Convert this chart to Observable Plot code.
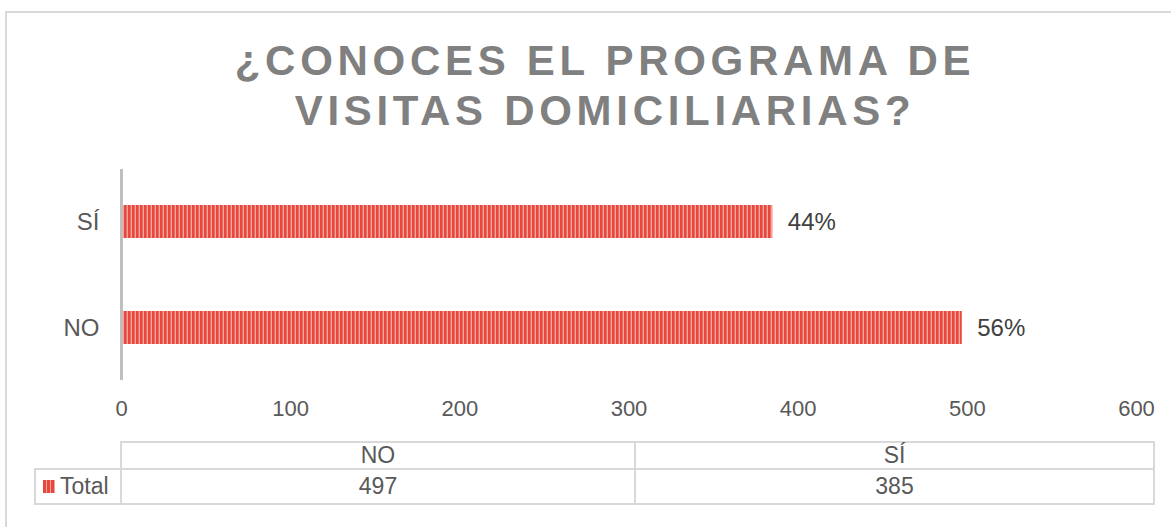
<!DOCTYPE html>
<html>
<head>
<meta charset="utf-8">
<script src="https://cdn.jsdelivr.net/npm/d3@7"></script>
<script src="https://cdn.jsdelivr.net/npm/@observablehq/plot@0.6"></script>
<style>
html,body{margin:0;padding:0;background:#fff;overflow:hidden;width:1171px;height:527px;}
body{position:relative;font-family:"Liberation Sans",Arial,sans-serif;}
#frame{position:absolute;left:5px;top:11px;width:1200px;height:600px;border:2px solid #d9d9d9;box-sizing:border-box;}
#chart{position:absolute;left:0;top:0;}
#title{position:absolute;left:0;top:35.5px;width:1210px;text-align:center;font-size:42px;line-height:50px;font-weight:bold;letter-spacing:4.7px;color:#808080;}
#table{position:absolute;left:34px;top:441px;display:grid;grid-template-columns:86px 514px 521px;grid-template-rows:27px 37px;font-size:23px;color:#595959;}
.c{box-sizing:border-box;border:0 solid #d9d9d9;display:flex;align-items:center;justify-content:center;}
.sw{display:inline-block;width:12px;height:13px;margin-right:5px;background:repeating-linear-gradient(90deg,#e8473d 0 2.6px,#f6a59d 2.6px 4px);}
</style>
</head>
<body>
<div id="frame"></div>
<div id="chart"></div>
<div id="title"></div>
<div id="table"></div>
<script>
// ---- data ----
const titleLines = ["¿CONOCES EL PROGRAMA DE", "VISITAS DOMICILIARIAS?"];
const categories = ["NO", "SÍ"];
const values = [497, 385];
const seriesName = "Total";
const xTicks = [0, 100, 200, 300, 400, 500, 600];

const total = d3.sum(values);
const data = categories.map((c, i) => ({cat: c, value: values[i]}));

const chart = Plot.plot({
  width: 1171,
  height: 430,
  marginTop: 169,
  marginBottom: 50,
  marginLeft: 121,
  marginRight: 35,
  style: {fontFamily: '"Liberation Sans", Arial, sans-serif', fontSize: "22px", color: "#595959", background: "transparent", overflow: "visible"},
  x: {domain: [0, 600], ticks: xTicks, tickSize: 0, tickPadding: 20, label: null},
  y: {domain: [...categories].reverse(), paddingInner: 0.69, paddingOuter: 0.336, tickSize: 0, tickPadding: 22, label: null},
  marks: [
    Plot.barX(data, {x: "value", y: "cat", fill: "url(#stripes)"}),
    Plot.ruleX([0], {stroke: "#bfbfbf", strokeWidth: 3}),
    Plot.text(data, {x: "value", y: "cat", text: d => d3.format(".0%")(d.value / total), textAnchor: "start", dx: 15, fontSize: 24, fill: "#404040"})
  ]
});
document.getElementById("chart").appendChild(chart);
const svgEl = chart.tagName.toLowerCase() === "svg" ? chart : chart.querySelector("svg");
const svg = d3.select(svgEl);
svg.selectAll('g[aria-label^="y-axis"] text').style("font-size", "24px");
const defs = svg.insert("defs", ":first-child");
const pat = defs.append("pattern").attr("id", "stripes").attr("patternUnits", "userSpaceOnUse").attr("width", 4).attr("height", 4);
pat.append("rect").attr("width", 4).attr("height", 4).attr("fill", "#f6a59d");
pat.append("rect").attr("width", 2.6).attr("height", 4).attr("fill", "#e8473d");

// title
document.getElementById("title").innerHTML = titleLines.join("<br>");

// data table
const tbl = d3.select("#table");
function cell(styleBorders) {
  const d = tbl.append("div").attr("class", "c");
  for (const [k, v] of Object.entries(styleBorders)) d.style(k, v);
  return d;
}
cell({});
categories.forEach((c, i) => {
  const b = {"border-left-width": "2px", "border-top-width": "2px"};
  if (i === categories.length - 1) b["border-right-width"] = "2px";
  cell(b).text(c);
});
const lc = cell({"border-left-width": "2px", "border-top-width": "2px", "border-bottom-width": "2px", "justify-content": "flex-start", "padding-left": "7px"});
lc.append("span").attr("class", "sw");
lc.append("span").text(seriesName);
values.forEach((v, i) => {
  const b = {"border-left-width": "2px", "border-top-width": "2px", "border-bottom-width": "2px"};
  if (i === values.length - 1) b["border-right-width"] = "2px";
  cell(b).text(v);
});
</script>
</body>
</html>
